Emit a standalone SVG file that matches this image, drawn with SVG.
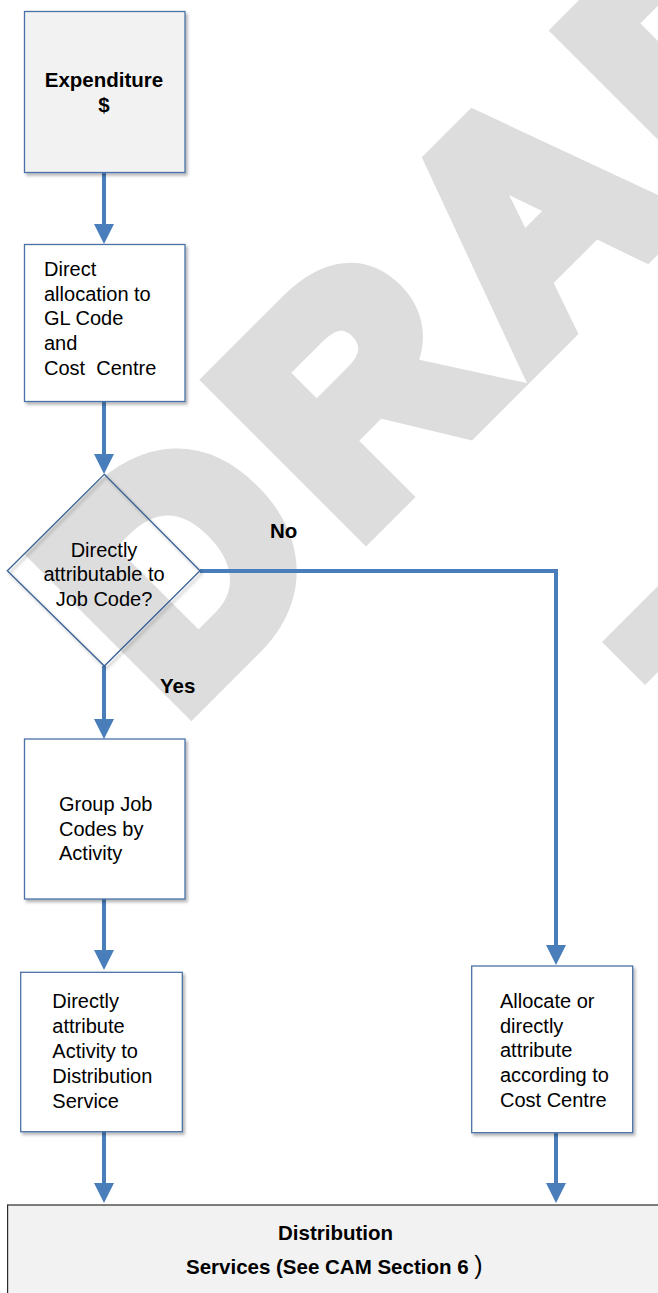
<svg xmlns="http://www.w3.org/2000/svg" width="658" height="1293" viewBox="0 0 658 1293">
  <style>
    .box { stroke: #4a72a6; stroke-width: 1.3; }
    .txt { font-family: "Liberation Sans", Arial, sans-serif; font-size: 20px; fill: #000; }
    .bold { font-family: "Liberation Sans", Arial, sans-serif; font-size: 20.5px; font-weight: bold; fill: #000; }
    .conn { fill: none; stroke: #4a7ebb; stroke-width: 4; }
    .mark { fill: #dddddd; }
  </style>
  <defs>
    <filter id="shadow" x="-10%" y="-10%" width="130%" height="130%">
      <feDropShadow dx="2" dy="2.5" stdDeviation="1.8" flood-color="#000" flood-opacity="0.3"/>
    </filter>
    <marker id="arrow" markerUnits="userSpaceOnUse" markerWidth="20" markerHeight="20" refX="0" refY="10" orient="auto">
      <path d="M0,0 L20,10 L0,20 z" fill="#4a7ebb"/>
    </marker>
  </defs>

  <rect width="658" height="1293" fill="#ffffff"/>

  <!-- background watermark -->
  <g id="watermark">
    <text transform="translate(457,457) rotate(-45)" x="-382 -135 112 359 606" y="-14"
          font-family="Liberation Sans, Arial, sans-serif" font-weight="bold" font-size="305"
          fill="#dddddd" stroke="#dddddd" stroke-width="26" stroke-linejoin="miter">DRAFT</text>
    <polygon class="mark" points="602,642 660,584 660,670 645,685"/>
  </g>

  <!-- connectors -->
  <g id="connectors">
    <path class="conn" d="M104,173 V224" marker-end="url(#arrow)"/>
    <path class="conn" d="M104,402 V454" marker-end="url(#arrow)"/>
    <path class="conn" d="M104,666 V719" marker-end="url(#arrow)"/>
    <path class="conn" d="M104,899 V950" marker-end="url(#arrow)"/>
    <path class="conn" d="M104,1132 V1183" marker-end="url(#arrow)"/>
    <path class="conn" d="M200,571 H556 V945" marker-end="url(#arrow)"/>
    <path class="conn" d="M556,1133 V1183" marker-end="url(#arrow)"/>
    <text class="bold" x="270" y="537.5">No</text>
    <text class="bold" x="160" y="692.5">Yes</text>
  </g>

  <g id="expenditure">
    <rect class="box" x="24.5" y="11.5" width="160.5" height="161" fill="#f2f2f2" filter="url(#shadow)"/>
    <text class="bold" x="104" y="87" text-anchor="middle">Expenditure</text>
    <text class="bold" x="104" y="112" text-anchor="middle">$</text>
  </g>

  <g id="direct-allocation">
    <rect class="box" x="24.5" y="244.5" width="160.5" height="157" fill="#ffffff" filter="url(#shadow)"/>
    <text class="txt" x="44" y="276">Direct</text>
    <text class="txt" x="44" y="300.7">allocation to</text>
    <text class="txt" x="44" y="325.4">GL Code</text>
    <text class="txt" x="44" y="350.1">and</text>
    <text class="txt" x="44" y="375" xml:space="preserve">Cost  Centre</text>
  </g>

  <g id="decision">
    <polygon points="104.3,474.3 200,570.7 104.3,666 7.3,570.7" fill="none" stroke="#3a6194" stroke-width="1.3" filter="url(#shadow)"/>
    <text class="txt" x="104" y="556.7" text-anchor="middle">Directly</text>
    <text class="txt" x="104" y="581.2" text-anchor="middle">attributable to</text>
    <text class="txt" x="104" y="605.8" text-anchor="middle">Job Code?</text>
  </g>

  <g id="group-job-codes">
    <rect class="box" x="24.5" y="739" width="160.5" height="160" fill="#ffffff" filter="url(#shadow)"/>
    <text class="txt" x="59" y="810.7">Group Job</text>
    <text class="txt" x="59" y="835.5">Codes by</text>
    <text class="txt" x="59" y="860">Activity</text>
  </g>

  <g id="attribute-activity">
    <rect class="box" x="20.7" y="972.3" width="161.6" height="159.4" fill="#ffffff" filter="url(#shadow)"/>
    <text class="txt" x="52.3" y="1008.3">Directly</text>
    <text class="txt" x="52.3" y="1033.3">attribute</text>
    <text class="txt" x="52.3" y="1058.3">Activity to</text>
    <text class="txt" x="52.3" y="1083.3">Distribution</text>
    <text class="txt" x="52.3" y="1108.3">Service</text>
  </g>

  <g id="allocate-cost-centre">
    <rect class="box" x="471.7" y="966" width="161" height="166.7" fill="#ffffff" filter="url(#shadow)"/>
    <text class="txt" x="500" y="1008.3">Allocate or</text>
    <text class="txt" x="500" y="1032.7">directly</text>
    <text class="txt" x="500" y="1056.9">attribute</text>
    <text class="txt" x="500" y="1081.6">according to</text>
    <text class="txt" x="500" y="1106.5">Cost Centre</text>
  </g>

  <g id="distribution-services">
    <rect x="7.6" y="1205" width="700" height="120" fill="#f2f2f2" stroke="#2b2b2b" stroke-width="1.2"/>
    <text class="bold" x="335.5" y="1240" text-anchor="middle">Distribution</text>
    <text class="bold" x="186" y="1274" xml:space="preserve">Services (See CAM Section 6 <tspan font-weight="normal" font-size="25">)</tspan></text>
  </g>
</svg>
